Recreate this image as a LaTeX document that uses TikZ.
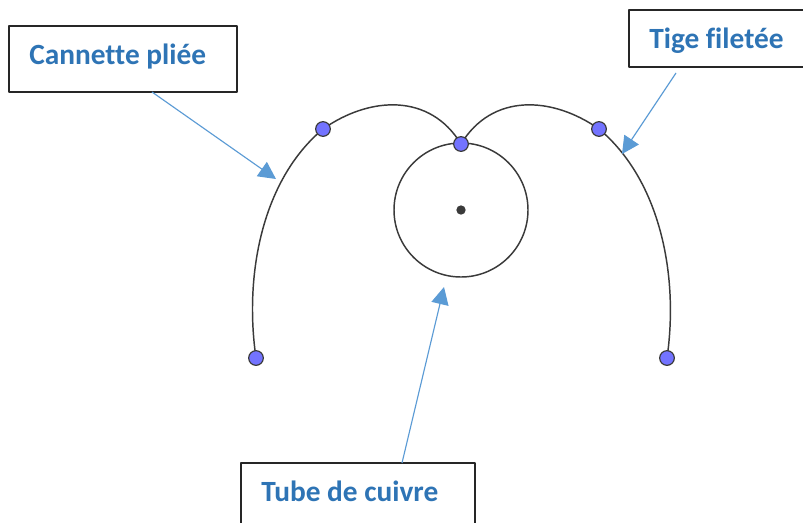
\documentclass[tikz,border=0pt]{standalone}
\usepackage{fontspec}
\setmainfont[Ligatures=NoCommon]{Carlito}
\usetikzlibrary{arrows.meta}
\definecolor{lab}{HTML}{2E74B5}
\definecolor{arr}{HTML}{5B9BD5}
\definecolor{pt}{HTML}{7373FF}
\definecolor{ink}{HTML}{3A3A3A}
\tikzset{
  every picture/.style={line join=round},
  boxn/.style={draw=black!85,line width=0.9pt,rectangle,fill=white,inner sep=0pt},
  labn/.style={text=lab,font=\fontsize{22}{26}\selectfont\bfseries,inner sep=0pt,anchor=base west},
  ptn/.style={circle,draw=ink,fill=pt,line width=0.9pt,minimum size=11pt,inner sep=0pt},
  centern/.style={circle,fill=ink,minimum size=7pt,inner sep=0pt},
  curve/.style={draw=ink,line width=1.1pt},
  callout/.style={draw=arr,line width=0.85pt,-{Triangle[length=13pt,width=13pt]}}
}
\begin{document}
\begin{tikzpicture}[x=0.75pt,y=-0.75pt]
\useasboundingbox (0,0) rectangle (803,522);
\clip (0,0) rectangle (803,522);
\fill[white] (0,0) rectangle (803,522);
% boxes
\node[boxn,minimum width=171pt,minimum height=49.5pt] (boxA) at (123,59) {};
\node[boxn,minimum width=150pt,minimum height=42.75pt] (boxB) at (729,38.5) {};
\node[boxn,minimum width=175.5pt,minimum height=60pt] (boxC) at (358,503) {};
\node[labn] (labA) at (29,64) {Cannette pliée};
\node[labn] (labB) at (649,48) {Tige filetée};
\node[labn] (labC) at (261,501) {Tube de cuivre};
% geometry
\node[circle,curve,minimum size=100.5pt,inner sep=0pt] (tube) at (461,210) {};
\node[centern] (ctr) at (461,210) {};
\coordinate (pa) at (256,358);
\coordinate (pb) at (323,129);
\coordinate (pc) at (461,144);
\coordinate (pd) at (599,129);
\coordinate (pe) at (667,358);
\draw[curve] (pa) .. controls (244,275) and (262,180) .. (pb);
\draw[curve] (pb) .. controls (370,96) and (430,93) .. (pc);
\draw[curve] (pc) .. controls (492,93) and (552,96) .. (pd);
\draw[curve] (pd) .. controls (660,180) and (679,275) .. (pe);
\node[ptn] (nA) at (pa) {};
\node[ptn] (nB) at (pb) {};
\node[ptn] (nC) at (pc) {};
\node[ptn] (nD) at (pd) {};
\node[ptn] (nE) at (pe) {};
% callouts
\coordinate (startA) at (152,92);
\coordinate (endA) at (276,179);
\coordinate (startB) at (676,73);
\coordinate (endB) at (622,154);
\coordinate (startC) at (402,463);
\coordinate (endC) at (444,287);
\draw[callout] (startA) -- (endA);
\draw[callout] (startB) -- (endB);
\draw[callout] (startC) -- (endC);
\end{tikzpicture}
\end{document}
